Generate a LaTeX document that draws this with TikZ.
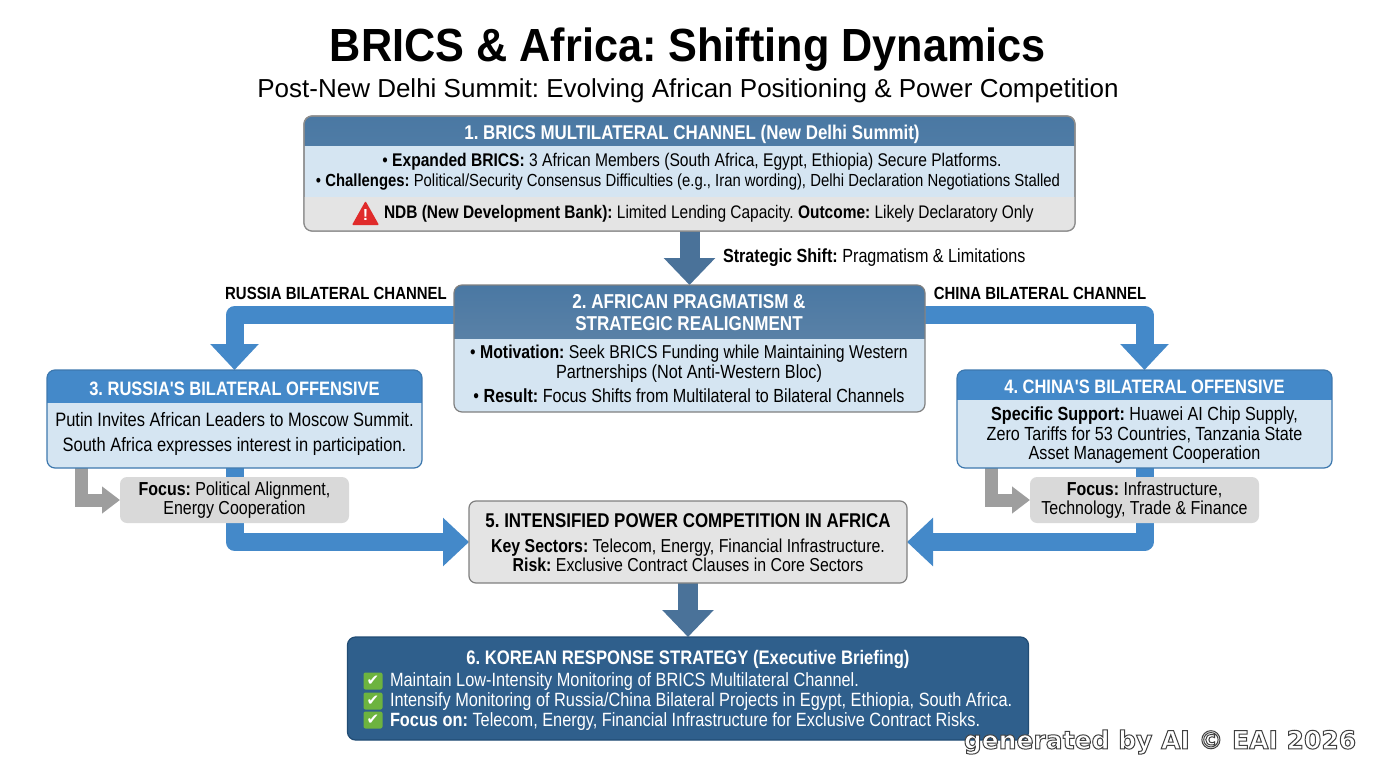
\documentclass[tikz,border=0pt]{standalone}
\usepackage{fontspec}
\usepackage{xcolor}
\setmainfont{Liberation Sans}
\newfontfamily\titlefont[FakeStretch=0.93]{Liberation Sans}
\newfontfamily\narrowfont[FakeStretch=0.85]{Liberation Sans}
\newfontfamily\symbolfont{DejaVu Sans}
\newfontfamily\markfont[UprightFont=* Bold,FakeBold=4]{DejaVu Sans}
\usetikzlibrary{arrows.meta,backgrounds}
\frenchspacing
\definecolor{slatetop}{HTML}{4A78A3}
\definecolor{slatelow}{HTML}{5C86AC}
\definecolor{slatepale}{HTML}{6E8DAB}
\definecolor{slatearrow}{HTML}{4A7299}
\definecolor{brightblue}{HTML}{4489C9}
\definecolor{brightedge}{HTML}{3D78AE}
\definecolor{paleblue}{HTML}{D5E5F2}
\definecolor{palegrey}{HTML}{E4E4E4}
\definecolor{focusgrey}{HTML}{D9D9D9}
\definecolor{arrowgrey}{HTML}{9E9E9E}
\definecolor{navyblue}{HTML}{2F5F8C}
\definecolor{navyedge}{HTML}{214C74}
\definecolor{warnred}{HTML}{E02B2B}
\definecolor{checkgreen}{HTML}{6DB33F}
\tikzset{
  panel/.style n args={3}{draw=#1,line width=1.2pt,rounded corners=8pt,fill=paleblue,
    path picture={\fill[#2,sharp corners] (path picture bounding box.north west) rectangle ([yshift=-#3]path picture bounding box.north east);}},
  headtext/.style={text=white,font=\narrowfont\bfseries\fontsize{#1}{22}\selectfont},
  bodytext/.style 2 args={align=center,font=\narrowfont\fontsize{#1}{#2}\selectfont},
  focusbox/.style={fill=focusgrey,rounded corners=7pt,minimum width=229pt,minimum height=46pt,align=center,inner sep=0pt,
    font=\narrowfont\fontsize{18.8}{19.5}\selectfont},
  channeltext/.style={font=\narrowfont\bfseries\fontsize{17.6}{20}\selectfont},
  bluearrow/.style={brightblue,line width=18pt,line join=round,-{Triangle[width=47pt,length=26pt]}},
  greyarrow/.style={arrowgrey,line width=13pt,-{Triangle[width=26pt,length=18pt]}},
  slatedown/.style={slatearrow,line width=20pt,-{Triangle[width=50pt,length=27pt]}},
  checkmark/.style={fill=checkgreen,text=white,rounded corners=2pt,minimum width=19pt,minimum height=17pt,inner sep=0pt,
    font=\symbolfont\fontsize{15}{15}\selectfont}
}
\begin{document}
\begin{tikzpicture}[x=1pt,y=-1pt,every node/.style={inner sep=0pt,outer sep=0pt}]
\useasboundingbox (0,0) rectangle (1376,768);
% title
\node (title) at (688,50) {\titlefont\fontsize{46.5}{50}\selectfont\bfseries BRICS \& Africa: Shifting Dynamics};
\node (subtitle) at (688,91) {\fontsize{26}{30}\selectfont Post-New Delhi Summit: Evolving African Positioning \& Power Competition};
% box 1
\node (boxa) at (689.5,173.5) [panel={black!45}{top color=slatetop,bottom color=slatelow}{29pt},minimum width=771pt,minimum height=115pt] {};
\begin{scope}
\clip[rounded corners=8pt] (boxa.north west) rectangle (boxa.south east);
\fill[palegrey] (304,197) rectangle (1075,231);
\end{scope}
\draw[black!45,line width=1.2pt,rounded corners=8pt] (boxa.north west) rectangle (boxa.south east);
\node[headtext=19.9] (boxatitle) at (692,134) {1. BRICS MULTILATERAL CHANNEL (New Delhi Summit)};
\node[bodytext={18.35}{20}] (boxabody) at (692,162) {• \textbf{Expanded BRICS:} 3 African Members (South Africa, Egypt, Ethiopia) Secure Platforms.};
\node[bodytext={17.5}{20}] (boxabodyb) at (688,182) {• \textbf{Challenges:} Political/Security Consensus Difficulties (e.g., Iran wording), Delhi Declaration Negotiations Stalled};
\fill[warnred,rounded corners=1pt] (365.5,201) -- (379,225) -- (352,225) -- cycle;
\node (warnmark) at (365.5,215) {\fontsize{16}{16}\selectfont\bfseries\color{white}!};
\node[bodytext={18.2}{20},anchor=west] (boxaoutcome) at (384,214) {\textbf{NDB (New Development Bank):} Limited Lending Capacity. \textbf{Outcome:} Likely Declaratory Only};
% box 2
\node (boxb) at (689.5,348.5) [panel={black!50}{top color=slatetop,bottom color=slatepale}{53pt},minimum width=471pt,minimum height=127pt] {};
\node[headtext=20.1,align=center] (boxbtitle) at (689,312.5) {2. AFRICAN PRAGMATISM \&\\ STRATEGIC REALIGNMENT};
\node[bodytext={18.6}{21}] (boxbbody) at (689,354) {• \textbf{Motivation:} Seek BRICS Funding while Maintaining Western};
\node[bodytext={19.1}{21}] (boxbbodyb) at (689,374) {Partnerships (Not Anti-Western Bloc)};
\node[bodytext={19}{21}] (boxbbodyc) at (689,396) {• \textbf{Result:} Focus Shifts from Multilateral to Bilateral Channels};
% box 3
\node (boxc) at (234.5,419) [panel={brightedge}{brightblue}{33pt},minimum width=375pt,minimum height=98pt] {};
\node[headtext=19.4] (boxctitle) at (234.5,389) {3. RUSSIA'S BILATERAL OFFENSIVE};
\node[bodytext={19.4}{25}] (boxcbody) at (234.5,434) {Putin Invites African Leaders to Moscow Summit.\\
South Africa expresses interest in participation.};
\node[focusbox] (focusa) at (234.5,500) {\textbf{Focus:} Political Alignment,\\ Energy Cooperation};
% box 4
\node (boxd) at (1144.5,419) [panel={brightedge}{brightblue}{30pt},minimum width=375pt,minimum height=98pt] {};
\node[headtext=19.4] (boxdtitle) at (1144.5,387) {4. CHINA'S BILATERAL OFFENSIVE};
\node[bodytext={19}{19.5}] (boxdbody) at (1144.5,435.5) {\textbf{Specific Support:} Huawei AI Chip Supply,\\
Zero Tariffs for 53 Countries, Tanzania State\\
Asset Management Cooperation};
\node[focusbox] (focusb) at (1144.5,500) {\textbf{Focus:} Infrastructure,\\ Technology, Trade \& Finance};
% box 5
\node (boxe) at (688,542) [draw=black!50,line width=1.2pt,fill=palegrey,rounded corners=7pt,minimum width=438pt,minimum height=82pt] {};
\node[font=\narrowfont\bfseries\fontsize{19.9}{24}\selectfont] (boxetitle) at (688,521) {5. INTENSIFIED POWER COMPETITION IN AFRICA};
\node[bodytext={18.7}{19}] (boxebody) at (688,555.5) {\textbf{Key Sectors:} Telecom, Energy, Financial Infrastructure.\\
\textbf{Risk:} Exclusive Contract Clauses in Core Sectors};
% box 6
\node (boxf) at (688,688.5) [draw=navyedge,line width=1.2pt,fill=navyblue,rounded corners=8pt,minimum width=681pt,minimum height=103pt] {};
\node[headtext=19.6] (boxftitle) at (688,659) {6. KOREAN RESPONSE STRATEGY (Executive Briefing)};
\node[checkmark] (checka) at (373,681) {✔};
\node[checkmark] (checkb) at (373,701) {✔};
\node[checkmark] (checkc) at (373,720) {✔};
\node[bodytext={19.2}{20},align=left,anchor=west,text=white] (boxfbody) at (390,702) {Maintain Low-Intensity Monitoring of BRICS Multilateral Channel.\\
Intensify Monitoring of Russia/China Bilateral Projects in Egypt, Ethiopia, South Africa.\\
\textbf{Focus on:} Telecom, Energy, Financial Infrastructure for Exclusive Contract Risks.};
% labels
\node[bodytext={19}{20},anchor=west] (shiftlabel) at (723,258) {\textbf{Strategic Shift:} Pragmatism \& Limitations};
\node[channeltext] (russialabel) at (336,293) {RUSSIA BILATERAL CHANNEL};
\node[channeltext] (chinalabel) at (1040,293) {CHINA BILATERAL CHANNEL};
\node (watermark) at (1160,742) {\markfont\fontsize{25}{30}\selectfont\special{pdf:bcolor [1] [0.25]}generated by AI © EAI 2026\special{pdf:ecolor}};
% connectors
\begin{scope}[on background layer]
\draw[slatedown] (boxa.south) -- (boxb.north);
\draw[bluearrow] ([yshift=-30pt]boxb.north west) -| (boxc.north);
\draw[bluearrow] ([yshift=-30pt]boxb.north east) -| (boxd.north);
\draw[bluearrow] (boxc.south) |- (boxe.west);
\draw[bluearrow] (boxd.south) |- (boxe.east);
\draw[greyarrow] ([xshift=34.5pt]boxc.south west) |- (focusa.west);
\draw[greyarrow] ([xshift=34.5pt]boxd.south west) |- (focusb.west);
\draw[slatedown] (boxe.south) -- (boxf.north);
\end{scope}
\end{tikzpicture}
\end{document}
